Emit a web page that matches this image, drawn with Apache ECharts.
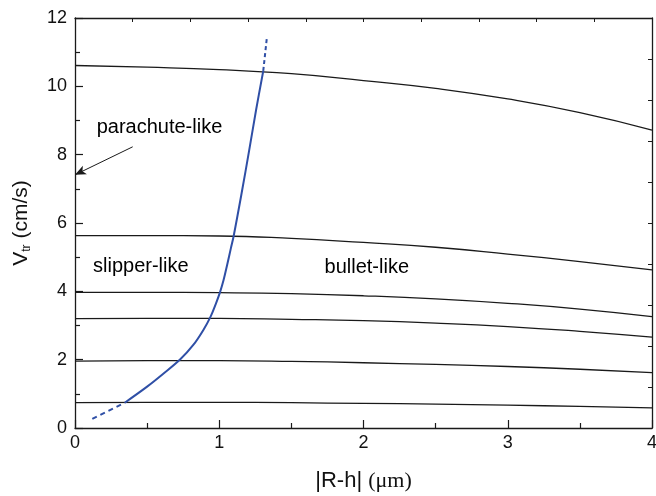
<!DOCTYPE html>
<html>
<head>
<meta charset="utf-8">
<script src="https://cdn.jsdelivr.net/npm/echarts@6/dist/echarts.min.js"></script>
<style>html,body{margin:0;padding:0;background:#fff;}#c{width:656px;height:496px;}</style>
</head>
<body>
<div id="c"></div>
<script>
// ---- data ----
var xs = [0, 0.5, 1, 1.5, 2, 2.5, 3, 3.5, 4];
var curve1 = [10.61, 10.56, 10.49, 10.37, 10.17, 9.94, 9.63, 9.23, 8.72];
var curve2 = [5.63, 5.63, 5.62, 5.55, 5.43, 5.29, 5.09, 4.87, 4.63];
var curve3 = [3.97, 3.97, 3.96, 3.93, 3.87, 3.78, 3.65, 3.48, 3.26];
var curve4 = [3.20, 3.21, 3.21, 3.18, 3.14, 3.07, 2.97, 2.83, 2.66];
var curve5 = [1.96, 1.97, 1.97, 1.95, 1.91, 1.86, 1.80, 1.72, 1.62];
var curve6 = [0.74, 0.75, 0.75, 0.74, 0.72, 0.70, 0.67, 0.63, 0.59];

var blueLowX = [0.12, 0.345];
var blueLowY = [0.27, 0.74];
var blueX = [0.345, 0.5, 0.61, 0.73, 0.82, 0.89, 0.94, 0.975, 1.005, 1.03, 1.055, 1.08, 1.1, 1.155, 1.208, 1.255, 1.305];
var blueY = [0.74, 1.21, 1.58, 2.01, 2.43, 2.87, 3.26, 3.62, 3.97, 4.33, 4.78, 5.25, 5.62, 6.87, 8.14, 9.3, 10.45];
var blueHighX = [1.305, 1.33];
var blueHighY = [10.45, 11.42];

var labelTexts = ['parachute-like', 'slipper-like', 'bullet-like'];
var labelX = [0.15, 0.125, 1.73];
var labelY = [8.79, 4.72, 4.69];

var arrowFrom = [0.40, 8.23];
var arrowTo = [0.0, 7.41];

var xTicks = [0, 1, 2, 3, 4];
var yTicks = [0, 2, 4, 6, 8, 10, 12];

// ---- build ----
function zip(a, b) { return a.map(function (v, i) { return [v, b[i]]; }); }
var black = '#1a1a1a';
var blue = '#2f4fa6';
var curves = [curve1, curve2, curve3, curve4, curve5, curve6];
var series = curves.map(function (c) {
  return { type: 'line', data: zip(xs, c), smooth: 0.5, showSymbol: false, symbol: 'none',
    lineStyle: { color: black, width: 1.3 }, silent: true, z: 2 };
});
series.push({ type: 'line', data: zip(blueX, blueY), smooth: 0.35, symbol: 'none',
  lineStyle: { color: blue, width: 2 }, z: 3 });
series.push({ type: 'line', data: zip(blueLowX, blueLowY), symbol: 'none',
  lineStyle: { color: blue, width: 2, type: [5, 4] }, z: 3 });
series.push({ type: 'line', data: zip(blueHighX, blueHighY), symbol: 'none',
  lineStyle: { color: blue, width: 2, type: [4, 3] }, z: 3 });
series.push({ type: 'scatter', symbolSize: 0, itemStyle: { opacity: 1, color: '#000' },
  data: labelTexts.map(function (t, i) { return { value: [labelX[i], labelY[i]], name: t }; }),
  label: { show: true, position: 'right', distance: 0, formatter: '{b}', color: '#000', opacity: 1,
    fontSize: 20, fontFamily: 'Liberation Sans, Arial, sans-serif' },
  markLine: { silent: true, symbol: ['none', 'arrow'], symbolSize: [7, 11],
    lineStyle: { color: black, width: 1, type: 'solid', opacity: 1 }, label: { show: false },
    data: [[{ coord: arrowFrom }, { coord: arrowTo }]] },
  z: 4 });

var axisLine = { show: true, onZero: false, lineStyle: { color: black, width: 1.3 } };
var chart = echarts.init(document.getElementById('c'), null, { renderer: 'canvas' });
chart.setOption({
  backgroundColor: '#fff',
  animation: false,
  grid: { left: 75, right: 4, top: 18, bottom: 68, containLabel: false, outerBoundsMode: 'none' },
  xAxis: [{
    type: 'value', min: xTicks[0], max: xTicks[xTicks.length - 1], interval: 1,
    axisLine: axisLine,
    axisTick: { show: true, inside: true, length: 8, lineStyle: { color: black, width: 1.2 } },
    minorTick: { show: true, splitNumber: 2, length: 5, lineStyle: { color: black, width: 1.2 } },
    splitLine: { show: false },
    axisLabel: { color: '#111', fontSize: 18, margin: 6, fontFamily: 'Liberation Sans, Arial, sans-serif' },
    name: '{s||R-h| }{t|(μm)}', nameLocation: 'middle', nameGap: 42,
    nameTextStyle: { rich: {
      s: { fontSize: 22, fontFamily: 'Liberation Sans, Arial, sans-serif', color: '#111' },
      t: { fontSize: 22, fontFamily: 'Liberation Serif, Times New Roman, serif', color: '#111' } } }
  }, {
    type: 'value', position: 'top', min: 0, max: 10, interval: 1,
    axisLine: axisLine,
    axisTick: { show: true, inside: true, length: 4, lineStyle: { color: black, width: 1 } },
    axisLabel: { show: false }, splitLine: { show: false }
  }],
  yAxis: [{
    type: 'value', min: yTicks[0], max: yTicks[yTicks.length - 1], interval: 2,
    axisLine: axisLine,
    axisTick: { show: true, inside: true, length: 8, lineStyle: { color: black, width: 1.2 } },
    minorTick: { show: true, splitNumber: 2, length: 5, lineStyle: { color: black, width: 1.2 } },
    splitLine: { show: false },
    axisLabel: { color: '#111', fontSize: 18, margin: 8, fontFamily: 'Liberation Sans, Arial, sans-serif' },
    name: '{v|V}{s|tr}{n| (cm/s)}', nameLocation: 'middle', nameGap: 42, nameRotate: 90,
    nameTextStyle: { rich: {
      v: { fontSize: 21, fontFamily: 'Liberation Sans, Arial, sans-serif', color: '#111' },
      s: { fontSize: 12, fontFamily: 'Liberation Sans, Arial, sans-serif', color: '#111', verticalAlign: 'bottom', padding: [12, 0, 0, 0] },
      n: { fontSize: 21, fontFamily: 'Liberation Sans, Arial, sans-serif', color: '#111' } } }
  }, {
    type: 'value', position: 'right', min: 0, max: 10, interval: 1,
    axisLine: axisLine,
    axisTick: { show: true, inside: true, length: 4, lineStyle: { color: black, width: 1 } },
    axisLabel: { show: false }, splitLine: { show: false }
  }],
  series: series
});
</script>
</body>
</html>
